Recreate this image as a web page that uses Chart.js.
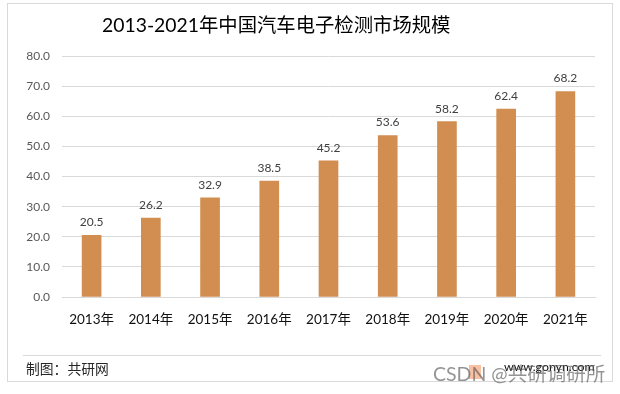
<!DOCTYPE html>
<html>
<head>
<meta charset="utf-8">
<style>
html,body{margin:0;padding:0;background:#fff;overflow:hidden}
#wrap{position:relative;width:620px;height:394px}
</style>
<script src="https://cdn.jsdelivr.net/npm/chart.js@4"></script>
</head>
<body>
<div id="wrap"><canvas id="c" width="620" height="394"></canvas></div>
<script>
const categories = ['2013年','2014年','2015年','2016年','2017年','2018年','2019年','2020年','2021年'];
const values = [20.5,26.2,32.9,38.5,45.2,53.6,58.2,62.4,68.2];
const titleText = '2013-2021年中国汽车电子检测市场规模';
const sourceText = '制图：共研网';
const siteText = 'www.gonyn.com';
const watermarkText = 'CSDN @共研调研所';
const FONT = 'Lato, "Noto Sans CJK SC", sans-serif';

const decor = {
  id:'decor',
  afterDraw(chart){
    const g = chart.ctx;
    g.save();
    g.strokeStyle = '#d9d9d9'; g.lineWidth = 1;
    g.strokeRect(7.5,3.5,605,378);
    g.beginPath(); g.moveTo(23,355.5); g.lineTo(601,355.5); g.stroke();
    g.textBaseline = 'middle';
    g.fillStyle = '#000';
    g.font = '19.35px ' + FONT;
    g.fillText(titleText,102,26);
    g.fillStyle = '#262626';
    g.font = '13.8px ' + FONT;
    g.fillText(sourceText,26,370);
    g.fillStyle = '#111';
    g.font = '12.3px ' + FONT;
    g.fillText(siteText,504,367);
    g.fillStyle = 'rgba(245,130,70,.5)';
    g.fillRect(469,365,12,14);
    g.fillStyle = 'rgba(90,90,90,.65)';
    g.font = '19.5px ' + FONT;
    g.fillText(watermarkText,433,375);
    // value labels
    g.font = '12px ' + FONT;
    g.fillStyle = '#404040';
    g.textAlign = 'center';
    const meta = chart.getDatasetMeta(0);
    meta.data.forEach((bar,i)=>{ g.fillText(values[i].toFixed(1),bar.x,bar.y-13); });
    g.restore();
  }
};

new Chart(document.getElementById('c'),{
  type:'bar',
  data:{labels:categories,datasets:[{data:values,backgroundColor:'#d18e50',barThickness:19}]},
  plugins:[decor],
  options:{
    responsive:false,animation:false,
    layout:{padding:{top:56,right:25,left:0,bottom:0}},
    plugins:{legend:{display:false},tooltip:{enabled:false},title:{display:false}},
    scales:{
      y:{min:0,max:80,
        ticks:{stepSize:10,callback:v=>v.toFixed(1),color:'#595959',font:{family:FONT,size:12},padding:12},
        grid:{color:'#d9d9d9',drawTicks:false},border:{display:false},
        afterFit(s){s.width=62;}},
      x:{ticks:{color:'#111',font:{family:FONT,size:13.5},padding:15,maxRotation:0},
        grid:{display:false,drawTicks:false},border:{color:'#d9d9d9'},
        afterFit(s){s.height=97;}}
    }
  }
});
</script>
</body>
</html>
